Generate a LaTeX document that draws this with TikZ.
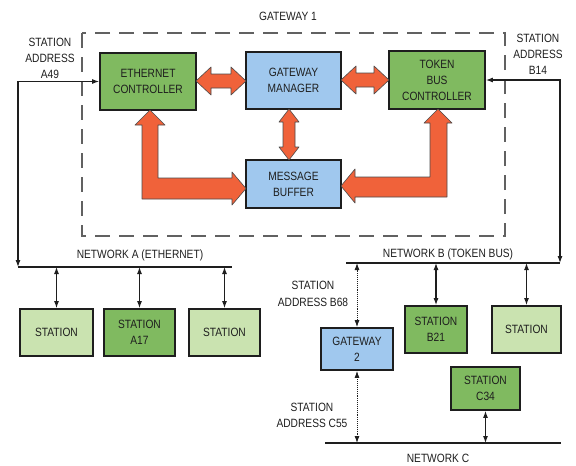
\documentclass[tikz,border=0pt]{standalone}
\usepackage{fontspec}
\setmainfont{Liberation Sans}[FakeStretch=0.85]
\usetikzlibrary{arrows.meta,calc}
\definecolor{orng}{RGB}{240,98,58}
\definecolor{dgreen}{RGB}{128,186,96}
\definecolor{lgreen}{RGB}{202,227,176}
\definecolor{lblue}{RGB}{160,200,238}
\definecolor{ink}{RGB}{30,30,30}
\newcommand{\lblfont}{\fontsize{12}{16}\selectfont}
\begin{document}
\begin{tikzpicture}[x=1pt,y=-1pt,
  >={Latex[length=7pt,width=5pt]},
  blk/.style={draw=ink, line width=1.8pt, align=center, inner sep=0pt, font=\lblfont, text=ink},
  gbox/.style={blk, fill=dgreen},
  lbox/.style={blk, fill=lgreen},
  bbox/.style={blk, fill=lblue},
  lbl/.style={align=center, font=\lblfont, text=ink, inner sep=0pt},
  wire/.style={draw=ink, line width=1.1pt},
  dwire/.style={draw=ink, line width=0.9pt, densely dotted},
  fat/.style={fill=orng, draw=ink!80, line width=0.6pt, line join=round},
  frame/.style={draw=ink!70, line width=1.1pt, dash pattern=on 15pt off 9pt}
]
\useasboundingbox (0,0) rectangle (576,466);

% gateway frame
\draw[frame] (82,33) rectangle (505,236);
\node[lbl] (gw1) at (288,16) {GATEWAY 1};

% gateway 1 blocks
\node[gbox, minimum width=96pt, minimum height=57pt] (eth) at (148,81.5) {ETHERNET\\CONTROLLER};
\node[bbox, minimum width=95pt, minimum height=57pt] (mgr) at (293.5,80.5) {GATEWAY\\MANAGER};
\node[gbox, minimum width=96pt, minimum height=58pt] (tok) at (437,80) {TOKEN\\BUS\\CONTROLLER};
\node[bbox, minimum width=95pt, minimum height=48pt] (buf) at (293.5,184) {MESSAGE\\BUFFER};

% fat arrows
\filldraw[fat] (196,81) -- (211,67) -- (211,74) -- (231,74) -- (231,67) -- (246,81)
  -- (231,95) -- (231,88) -- (211,88) -- (211,95) -- cycle;
\filldraw[fat] (341,80) -- (356,66) -- (356,73) -- (374,73) -- (374,66) -- (389,80)
  -- (374,94) -- (374,87) -- (356,87) -- (356,94) -- cycle;
\filldraw[fat] (289,109) -- (299,122) -- (295,122) -- (295,147) -- (299,147) -- (289,160)
  -- (279,147) -- (283,147) -- (283,122) -- (279,122) -- cycle;
\filldraw[fat] (150,110) -- (165,125) -- (158,125) -- (158,178) -- (232,178) -- (232,172)
  -- (246,188.5) -- (232,205) -- (232,199) -- (142,199) -- (142,125) -- (135,125) -- cycle;
\filldraw[fat] (438,109) -- (452,123) -- (447,123) -- (447,197) -- (355,197) -- (355,203)
  -- (341,186) -- (355,169) -- (355,177) -- (430,177) -- (430,123) -- (424,123) -- cycle;

% station address labels
\node[lbl] (a49) at (50,58) {STATION\\ADDRESS\\A49};
\node[lbl] (b14) at (538,54) {STATION\\ADDRESS\\B14};

% networks
\coordinate (nAl) at (18,267);
\coordinate (nAr) at (232,267);
\coordinate (nBl) at (346,263);
\coordinate (nBr) at (560,263);
\coordinate (nCl) at (325,443);
\coordinate (nCr) at (561,443);
\draw[wire] (nAl) -- (nAr);
\draw[wire] (nBl) -- (nBr);
\draw[wire] (nCl) -- (nCr);
\node[lbl] (netA) at (140,255) {NETWORK A (ETHERNET)};
\node[lbl] (netB) at (448,254) {NETWORK B (TOKEN BUS)};
\node[lbl] (netC) at (438,458) {NETWORK C};

% uplinks of gateway 1
\draw[wire,<->] (eth.west) -| (nAl);
\draw[wire,<->] (tok.east) -| (nBr);

% network A stations
\node[lbox, minimum width=73pt, minimum height=47pt] (sa1) at (56.5,332.5) {STATION};
\node[gbox, minimum width=71pt, minimum height=47pt] (sa2) at (139.5,332.5) {STATION\\A17};
\node[lbox, minimum width=71pt, minimum height=47pt] (sa3) at (224.5,332.5) {STATION};
\draw[wire,<->] (sa1.north |- nAl) -- (sa1.north);
\draw[wire,<->] (sa2.north |- nAl) -- (sa2.north);
\draw[wire,<->] (sa3.north |- nAl) -- (sa3.north);

% network B stations
\node[bbox, minimum width=72pt, minimum height=42pt] (gw2) at (357,349) {GATEWAY\\2};
\node[gbox, minimum width=62pt, minimum height=47pt] (sb1) at (436,329.5) {STATION\\B21};
\node[lbox, minimum width=69pt, minimum height=47pt] (sb2) at (526.5,329.5) {STATION};
\node[gbox, minimum width=69pt, minimum height=43pt] (sc1) at (485.5,388.5) {STATION\\C34};
\draw[dwire,<->] (gw2.north |- nBl) -- (gw2.north);
\draw[wire,<->] (sb1.north |- nBl) -- (sb1.north);
\draw[wire,<->] (sb2.north |- nBl) -- (sb2.north);
\draw[dwire,<->] (gw2.south) -- (gw2.south |- nCl);
\draw[wire,<->] (sc1.south) -- (sc1.south |- nCl);

\node[lbl, font=\fontsize{12}{17.5}\selectfont] (b68) at (313,294) {STATION\\ADDRESS B68};
\node[lbl, font=\fontsize{12}{16}\selectfont] (c55) at (312,415) {STATION\\ADDRESS C55};
\end{tikzpicture}
\end{document}
